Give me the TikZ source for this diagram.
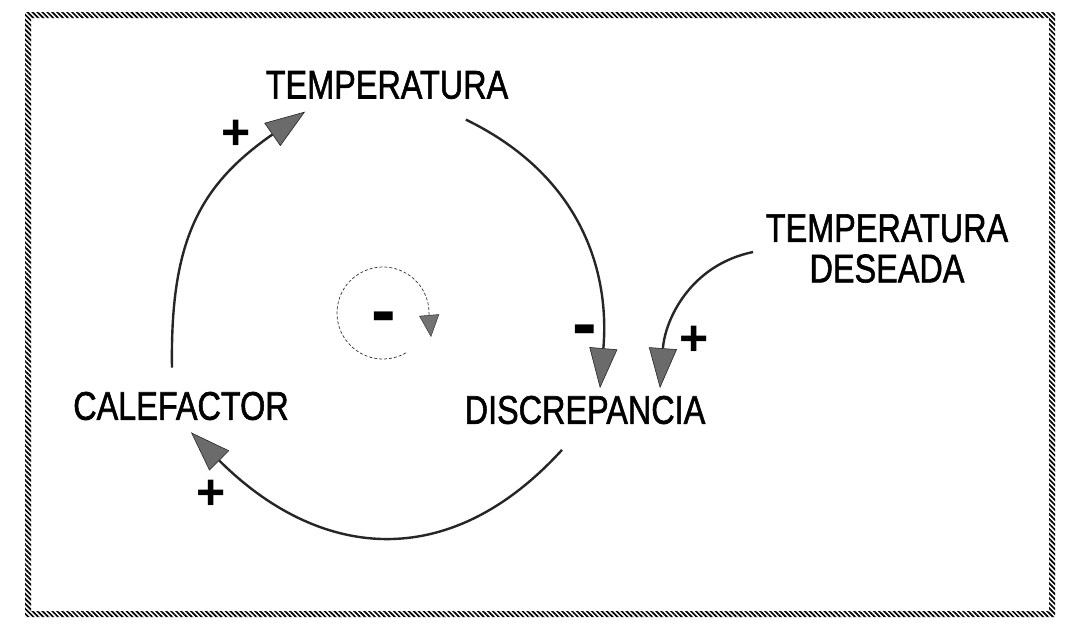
\documentclass[tikz,border=0pt]{standalone}
\usepackage{fontspec}
\setmainfont{Liberation Sans}
\newfontfamily\lblfont[FakeBold=1.6]{Liberation Sans}
\usetikzlibrary{arrows.meta,calc,patterns.meta}
\begin{document}
\begin{tikzpicture}[x=1pt,y=-1pt,
  lbl/.style={inner sep=0pt, font=\lblfont\fontsize{40}{40.5}\selectfont},
  plussign/.style={inner sep=0pt, font=\fontsize{50}{50}\selectfont\bfseries},
  minussign/.style={inner sep=0pt, anchor=base, font=\fontsize{74}{74}\selectfont\bfseries},
  link/.style={draw=black!85, line width=2.4pt, -{Triangle[length=40pt,width=28pt,line width=0.6pt,fill=black!58]}},
  loopline/.style={draw=black!80, line width=0.7pt, dash pattern=on 3pt off 2pt, -{Triangle[length=22pt,width=20pt,line width=0.5pt,fill=black!55]}}]
\useasboundingbox (0,0) rectangle (1069,633);
\fill[white] (0,0) rectangle (1069,633);
\fill[pattern={Lines[angle=-45,distance=3.5pt,line width=1.7pt]}, even odd rule]
  (25,12) rectangle (1055,617) (31,18) rectangle (1049,611);

\node[lbl] (temp) at (387,85) {\scalebox{0.81}[1]{TEMPERATURA}};
\node[lbl] (cal) at (181,406) {\scalebox{0.81}[1]{CALEFACTOR}};
\node[lbl] (disc) at (585,410) {\scalebox{0.81}[1]{DISCREPANCIA}};
\node[lbl] (des) at (887,254) {\scalebox{0.81}[1]{\begin{tabular}{@{}c@{}}TEMPERATURA\\DESEADA\end{tabular}}};

\node[plussign] (p1) at (236,135) {+};
\node[plussign] (p2) at (694,341) {+};
\node[plussign] (p3) at (211,495) {+};
\node[minussign] (m1) at (585,348) {-};
\node[minussign] (m2) at (384,335) {-};

\coordinate (lc) at (383,313);
\draw[loopline] ($(lc)+(60:46)$) arc[start angle=60,end angle=360,radius=46] -- ++(2,24);

\draw[link] ($(cal.north)+(-9,-24)$) .. controls (170,240) and (200,185) .. ($(temp.south west)+(39.5,12.5)$);
\draw[link] ($(temp.south east)+(-42.5,20.5)$) .. controls (580,175) and (610,270) .. ($(disc.north)+(15,-7.5)$);
\draw[link] ($(des.west)+(-12.5,-2)$) .. controls (690,265) and (665,320) .. ($(disc.north)+(75,-7.5)$);
\draw[link] ($(disc.south)+(-23,25.5)$) .. controls (447,576) and (317,558) .. ($(cal.south)+(10,12)$);
\end{tikzpicture}
\end{document}
